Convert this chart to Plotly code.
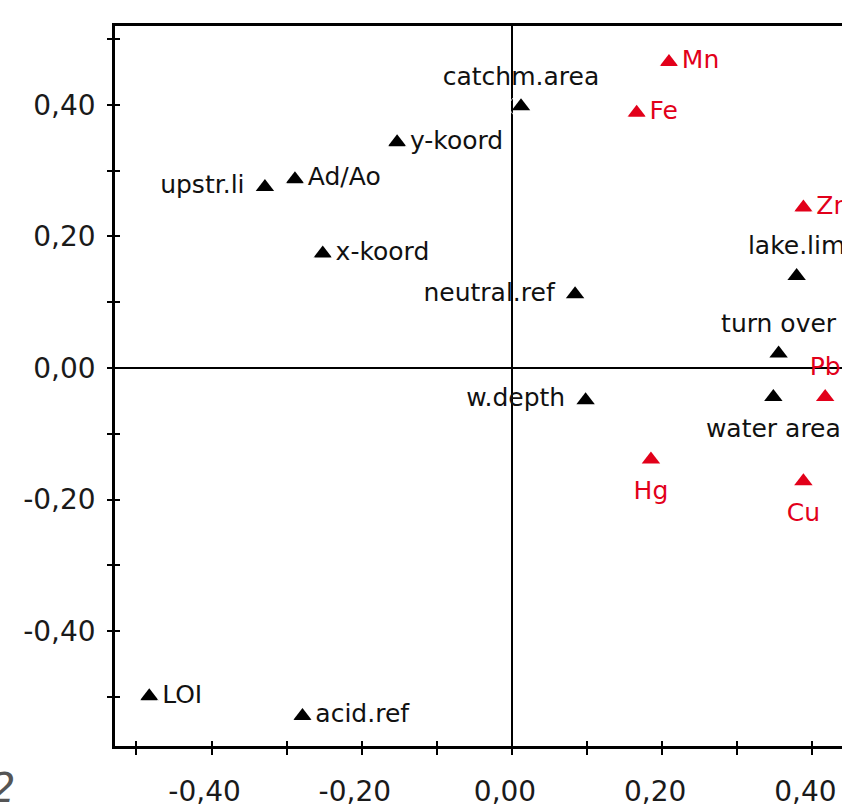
import plotly.graph_objects as go

# ---- data ----
env_names = ["catchm.area", "y-koord", "Ad/Ao", "upstr.li", "x-koord", "neutral.ref",
             "lake.lim", "turn over", "water area", "w.depth", "LOI", "acid.ref"]
env_x = [0.012, -0.153, -0.289, -0.329, -0.252, 0.084, 0.379, 0.355, 0.348, 0.098, -0.483, -0.279]
env_y = [0.398, 0.343, 0.287, 0.275, 0.174, 0.112, 0.140, 0.022, -0.044, -0.049, -0.499, -0.529]
env_pos = ["top center", "middle right", "middle right", "middle left", "middle right", "middle left",
           "top center", "top center", "bottom center", "middle left", "middle right", "middle right"]

metal_names = ["Mn", "Fe", "Zn", "Pb", "Hg", "Cu"]
metal_x = [0.209, 0.166, 0.388, 0.417, 0.185, 0.388]
metal_y = [0.465, 0.388, 0.244, -0.044, -0.139, -0.172]
metal_pos = ["middle right", "middle right", "middle right", "top center", "bottom center", "bottom center"]

tick_vals = [-0.5, -0.4, -0.3, -0.2, -0.1, 0.0, 0.1, 0.2, 0.3, 0.4, 0.5]
tick_text = ["", "-0,40", "", "-0,20", "", "0,00", "", "0,20", "", "0,40", ""]

FONT = "DejaVu Sans"
RED = "#E2001A"
XR = [-0.5286, 0.4394]
YR = [-0.5745, 0.5198]
MARKER = 16
# invisible spacer size per label side (controls label distance from the triangle)
SPACER = {"top center": 23, "bottom center": 32, "middle right": 19, "middle left": 31}

fig = go.Figure()
for xs, ys, names, pos, col in [(env_x, env_y, env_names, env_pos, "#111111"),
                                (metal_x, metal_y, metal_names, metal_pos, RED)]:
    fig.add_trace(go.Scatter(
        x=xs, y=ys, mode="markers",
        marker=dict(symbol="triangle-up", size=MARKER, color="black" if col != RED else RED),
        cliponaxis=False, showlegend=False, hoverinfo="skip"))
    fig.add_trace(go.Scatter(
        x=xs, y=ys, mode="markers+text", text=names, textposition=pos,
        marker=dict(size=[SPACER[p] for p in pos], color="rgba(0,0,0,0)"),
        textfont=dict(family=FONT, size=25, color=col),
        cliponaxis=False, showlegend=False, hoverinfo="skip"))

# helper traces to show the overlay axes (inner half of the crossing ticks)
fig.add_trace(go.Scatter(x=[], y=[], xaxis="x2", yaxis="y", showlegend=False, hoverinfo="skip"))
fig.add_trace(go.Scatter(x=[], y=[], xaxis="x", yaxis="y2", showlegend=False, hoverinfo="skip"))

fig.update_layout(
    width=842, height=804,
    margin=dict(l=115, r=0, t=26, b=58),
    paper_bgcolor="white", plot_bgcolor="white",
    font=dict(family=FONT, size=28, color="#1a1a1a"),
    xaxis=dict(range=XR, tickvals=tick_vals, ticktext=tick_text, ticks="outside", ticklen=6,
               tickwidth=1.5, tickcolor="black", showline=True, linecolor="black", linewidth=2.5,
               mirror=True, showgrid=False, zeroline=True, zerolinecolor="black", zerolinewidth=1.6,
               automargin=False, ticklabelstandoff=13, ticklabelshift=-7,
               ticklabeloverflow="allow",
               tickfont=dict(family=FONT, size=28, color="#1a1a1a")),
    yaxis=dict(range=YR, tickvals=tick_vals, ticktext=tick_text, ticks="outside", ticklen=5,
               tickwidth=1.5, tickcolor="black", showline=True, linecolor="black", linewidth=2.5,
               showgrid=False, zeroline=True, zerolinecolor="black", zerolinewidth=1.6,
               automargin=False, ticklabelstandoff=6, ticklabeloverflow="allow",
               tickfont=dict(family=FONT, size=28, color="#1a1a1a")),
    xaxis2=dict(range=XR, overlaying="x", side="bottom", anchor="y", tickvals=tick_vals,
                ticks="inside", ticklen=5, tickwidth=1.5, tickcolor="black", showticklabels=False,
                showline=False, showgrid=False, zeroline=False, automargin=False),
    yaxis2=dict(range=YR, overlaying="y", side="left", anchor="x", tickvals=tick_vals,
                ticks="inside", ticklen=5, tickwidth=1.5, tickcolor="black", showticklabels=False,
                showline=False, showgrid=False, zeroline=False, automargin=False),
    annotations=[dict(text="2", xref="paper", yref="paper", x=-0.1348, y=-0.0583,
                      xanchor="right", yanchor="middle", showarrow=False,
                      font=dict(family=FONT, size=40, color="#555555", style="italic"))],
)

fig.write_html("out.html", config={"displayModeBar": False},
               post_script="document.body.style.margin='0';document.body.style.overflow='hidden';")
